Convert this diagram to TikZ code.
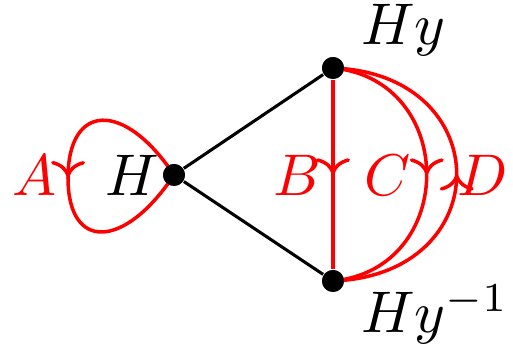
\documentclass[tikz,border=0pt]{standalone}
\usetikzlibrary{arrows.meta,decorations.markings}
\begin{document}
\begin{tikzpicture}[x=0.228pt,y=0.228pt,
  dot/.style={circle,fill=black,inner sep=0pt,minimum size=5pt},
  blackedge/.style={draw=black,line width=0.7pt},
  rededge/.style={draw=red,line width=0.8pt},
  midarrow/.style={postaction={decorate,decoration={markings,
     mark=at position #1 with {\arrow[red,line width=0.8pt]{Computer Modern Rightarrow[scale=1.1]}}}}},
  lbl/.style={inner sep=0pt,scale=1.34,transform shape},
  redlbl/.style={inner sep=0pt,text=red,scale=1.34,transform shape}]
\useasboundingbox (0,0) rectangle (513,346);
\node[dot] (H) at (174,171) {};
\node[dot] (Hy) at (333,278) {};
\node[dot] (Hyi) at (333,65) {};
\coordinate (L) at (68,168);
\draw[blackedge] (H) -- (Hy);
\draw[blackedge] (H) -- (Hyi);
\draw[rededge,midarrow=0.5] (H.center) .. controls (124,246) and (68,243) .. (L)
   .. controls (68,95) and (124,96) .. (H.center);
\draw[rededge,midarrow=0.5] (Hy) -- (Hyi);
\draw[rededge,midarrow=0.5] (Hy.center) .. controls (458,266) and (458,77) .. (Hyi.center);
\draw[rededge,midarrow=0.5] (Hyi.center) .. controls (498,71) and (498,272) .. (Hy.center);
\node[dot] at (H) {};
\node[dot] at (Hy) {};
\node[dot] at (Hyi) {};
\node[lbl] (tH) at (132,171) {$H$};
\node[lbl,anchor=base west] (tHy) at (360,301) {$Hy$};
\node[lbl,anchor=base west] (tHyi) at (360,13) {$Hy^{-1}$};
\node[redlbl] (tA) at (35,171) {$A$};
\node[redlbl] (tB) at (297,171) {$B$};
\node[redlbl] (tC) at (388,171) {$C$};
\node[redlbl] (tD) at (483,171) {$D$};
\end{tikzpicture}
\end{document}
